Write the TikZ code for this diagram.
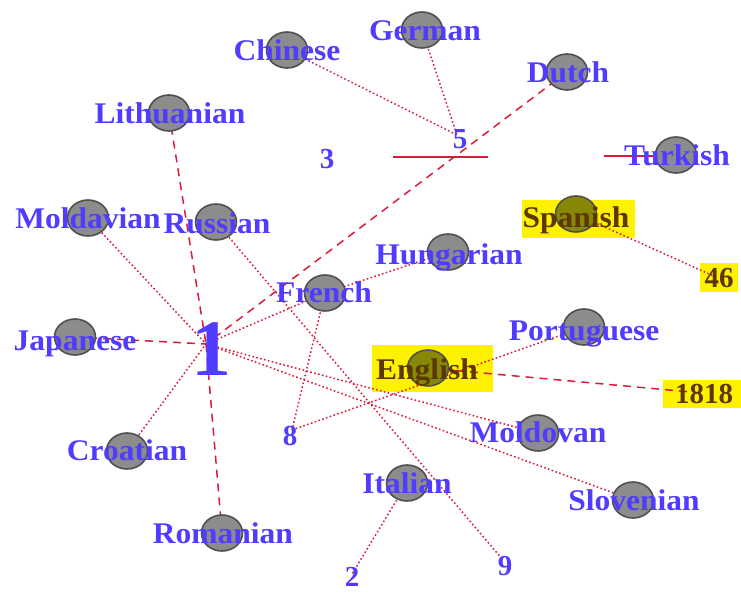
\documentclass[tikz,border=0pt]{standalone}
\usepackage{fontspec}
\setmainfont{Liberation Serif}
\usetikzlibrary{shapes.geometric}
\definecolor{lblblue}{RGB}{80,60,255}
\definecolor{edgered}{RGB}{218,28,60}
\definecolor{vfill}{RGB}{140,140,140}
\definecolor{vline}{RGB}{80,80,80}
\definecolor{vhl}{RGB}{135,135,8}
\definecolor{hltext}{RGB}{92,56,0}
\pgfdeclarelayer{hl}
\pgfdeclarelayer{edges}
\pgfsetlayers{hl,edges,main}
\tikzset{
  vtx/.style={ellipse, minimum width=41pt, minimum height=36pt, inner sep=0pt,
    fill=vfill, draw=vline, line width=1.6pt},
  vtxhl/.style={vtx, fill=vhl},
  lbl/.style={anchor=base, inner sep=0pt, text=lblblue,
    font=\bfseries\fontsize{30}{30}\selectfont\addfontfeature{FakeStretch=1.05}},
  lblhl/.style={lbl, text=hltext},
  num/.style={anchor=base, inner sep=0pt, text=lblblue,
    font=\bfseries\fontsize{29}{29}\selectfont},
  numhl/.style={num, text=hltext},
  dotedge/.style={draw=edgered, line width=1.5pt, dash pattern=on 1.6pt off 2.4pt},
  dashedge/.style={draw=edgered, line width=1.5pt, dash pattern=on 8pt off 6pt},
  solidedge/.style={draw=edgered, line width=2pt},
  hlbox/.style={fill=yellow}
}
\begin{document}
\begin{tikzpicture}[x=1pt, y=-1pt]
\useasboundingbox (0,0) rectangle (741,592);

% vertices
\node[vtx] (German)     at (422,30)  {};
\node[vtx] (Chinese)    at (287,50)  {};
\node[vtx] (Dutch)      at (567,72)  {};
\node[vtx] (Lithuanian) at (169,113) {};
\node[vtx] (Turkish)    at (676,155) {};
\node[vtx] (Moldavian)  at (88,218)  {};
\node[vtx] (Russian)    at (216,222) {};
\node[vtxhl] (Spanish)  at (576,214) {};
\node[vtx] (Hungarian)  at (448,252) {};
\node[vtx] (French)     at (325,293) {};
\node[vtx] (Japanese)   at (75,337)  {};
\node[vtx] (Portuguese) at (584,327) {};
\node[vtxhl] (English)  at (428,368) {};
\node[vtx] (Moldovan)   at (538,433) {};
\node[vtx] (Croatian)   at (127,451) {};
\node[vtx] (Italian)    at (407,483) {};
\node[vtx] (Slovenian)  at (633,500) {};
\node[vtx] (Romanian)   at (222,533) {};

% numeric vertices
\coordinate (hub1) at (206,344);
\coordinate (hub5) at (457,135);
\coordinate (hub8) at (292,430);
\coordinate (hub2) at (352,574);
\coordinate (hub9) at (503,560);
\coordinate (hub46) at (718,278);
\coordinate (hub1818) at (702,393);
\coordinate (barA) at (393,157);
\coordinate (barB) at (488,157);
\coordinate (barC) at (604,156);
\coordinate (barD) at (660,156);

% highlight boxes
\begin{pgfonlayer}{hl}
  \fill[hlbox] (522,200) rectangle (635,238);
  \fill[hlbox] (372,345) rectangle (493,392);
  \fill[hlbox] (700,263) rectangle (738,292);
  \fill[hlbox] (663,380) rectangle (741,408);
\end{pgfonlayer}

% edges
\begin{pgfonlayer}{edges}
  \draw[dotedge] (Chinese.center) -- (hub5);
  \draw[dotedge] (German.center) -- (hub5);
  \draw[dashedge] (Dutch.center) -- (hub1);
  \draw[solidedge] (barA) -- (barB);
  \draw[solidedge] (barC) -- (barD);
  \draw[dashedge] (Lithuanian.center) -- (hub1);
  \draw[dashedge] (hub1) -- (Romanian.center);
  \draw[dashedge] (Japanese.center) -- (hub1);
  \draw[dotedge] (Moldavian.center) -- (hub1);
  \draw[dotedge] (Croatian.center) -- (hub1);
  \draw[dotedge] (hub1) -- (French.center);
  \draw[dotedge] (hub1) -- (Moldovan.center);
  \draw[dotedge] (hub1) -- (Slovenian.center);
  \draw[dotedge] (Russian.center) -- (hub9);
  \draw[dotedge] (French.center) -- (Hungarian.center);
  \draw[dotedge] (French.center) -- (hub8);
  \draw[dotedge] (hub8) -- (Portuguese.center);
  \draw[dashedge] (English.center) -- (hub1818);
  \draw[dotedge] (Spanish.center) -- (hub46);
  \draw[dotedge] (Italian.center) -- (hub2);
\end{pgfonlayer}

% vertex labels
\node[lbl] (German-t)     at (425,40)  {German};
\node[lbl] (Chinese-t)    at (287,60)  {Chinese};
\node[lbl] (Dutch-t)      at (568,82)  {Dutch};
\node[lbl] (Lithuanian-t) at (170,123) {Lithuanian};
\node[lbl] (Turkish-t)    at (677,165) {Turkish};
\node[lbl] (Moldavian-t)  at (88,228)  {Moldavian};
\node[lbl] (Russian-t)    at (217,233) {Russian};
\node[lblhl] (Spanish-t)  at (576,227) {Spanish};
\node[lbl] (Hungarian-t)  at (449,264) {Hungarian};
\node[lbl] (French-t)     at (324,302) {French};
\node[lbl] (Japanese-t)   at (75,350)  {Japanese};
\node[lbl] (Portuguese-t) at (584,340) {Portuguese};
\node[lblhl] (English-t)  at (427,379) {English};
\node[lbl] (Moldovan-t)   at (538,442) {Moldovan};
\node[lbl] (Croatian-t)   at (127,460) {Croatian};
\node[lbl] (Italian-t)    at (407,493) {Italian};
\node[lbl] (Slovenian-t)  at (634,510) {Slovenian};
\node[lbl] (Romanian-t)   at (223,543) {Romanian};

% numeric labels
\node[num, font=\bfseries\fontsize{80}{80}\selectfont] (n1) at (211,375) {1};
\node[num] (n3) at (327,168) {3};
\node[num] (n5) at (460,148) {5};
\node[num] (n8) at (290,445) {8};
\node[num] (n2) at (352,586) {2};
\node[num] (n9) at (505,575) {9};
\node[numhl] (n46) at (719,287) {46};
\node[numhl] (n1818) at (704,403) {1818};
\end{tikzpicture}
\end{document}
